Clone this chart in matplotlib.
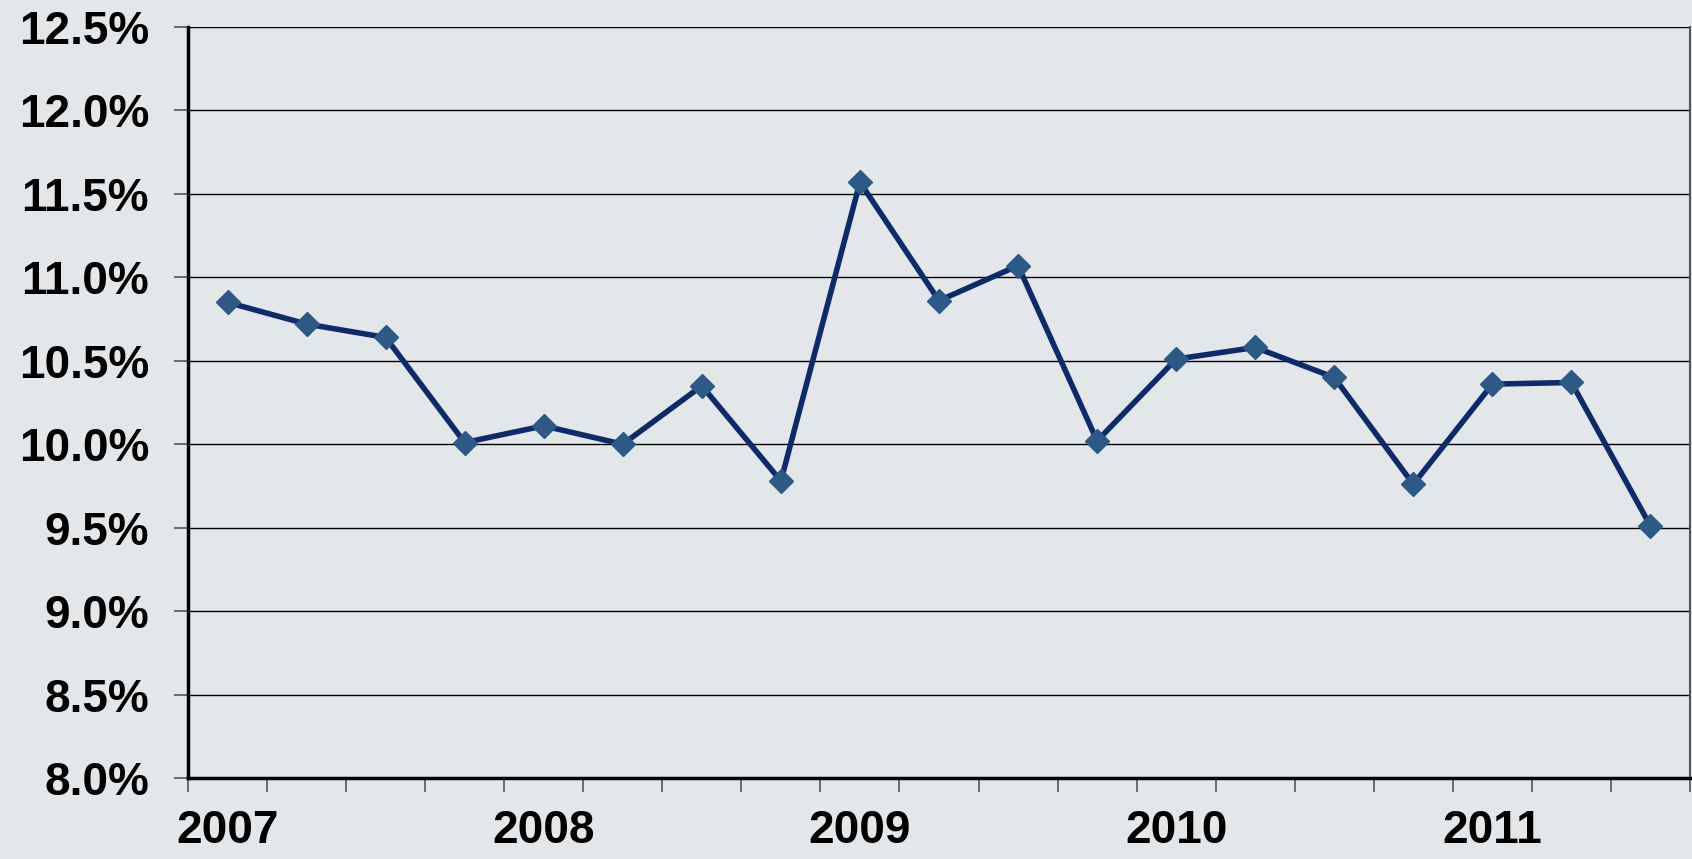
import matplotlib.pyplot as plt
from matplotlib.ticker import FuncFormatter, MultipleLocator

QUARTERS = ["2007 Q1", "2007 Q2", "2007 Q3", "2007 Q4",
            "2008 Q1", "2008 Q2", "2008 Q3", "2008 Q4",
            "2009 Q1", "2009 Q2", "2009 Q3", "2009 Q4",
            "2010 Q1", "2010 Q2", "2010 Q3", "2010 Q4",
            "2011 Q1", "2011 Q2", "2011 Q3"]
RATES = [10.85, 10.72, 10.64, 10.01, 10.11, 10.00, 10.35, 9.78,
         11.57, 10.86, 11.07, 10.02, 10.51, 10.58, 10.40, 9.76,
         10.36, 10.37, 9.51]
YEAR_LABELS = ["2007", "2008", "2009", "2010", "2011"]

BG = "#e4e7ea"

plt.rcParams["font.family"] = ["Liberation Sans", "DejaVu Sans"]
plt.rcParams["font.weight"] = "bold"

fig = plt.figure(figsize=(16.92, 8.59), dpi=100, facecolor=BG)
ax = fig.add_axes([188 / 1692, 1 - 778 / 859, (1690 - 188) / 1692, (778 - 27) / 859])
ax.set_facecolor(BG)

x = list(range(len(QUARTERS)))
ax.plot(x, RATES, color="#0d2a6b", linewidth=4, marker="D", markersize=12,
        markerfacecolor="#2a5a85", markeredgecolor="#2a5a85", zorder=3)

ax.set_xlim(-0.5, len(QUARTERS) - 0.5)
ax.set_ylim(8.0, 12.5)

ax.yaxis.set_major_locator(MultipleLocator(0.5))
ax.yaxis.set_major_formatter(FuncFormatter(lambda v, p: f"{v:.1f}%"))
ax.grid(axis="y", color="black", linewidth=1.0, zorder=1)

# year labels sit on the first quarter of each year
year_pos = [i for i, q in enumerate(QUARTERS) if q.endswith("Q1")]
ax.set_xticks(year_pos)
ax.set_xticklabels(YEAR_LABELS)
ax.set_xticks([i - 0.5 for i in range(len(QUARTERS) + 1)], minor=True)
ax.tick_params(axis="x", which="major", length=0, pad=22, labelsize=33)
ax.tick_params(axis="x", which="minor", length=10, width=1.2, color="#555555")
ax.tick_params(axis="y", length=10, width=1.2, color="#555555", labelsize=33, pad=18)

for side in ["left", "bottom"]:
    ax.spines[side].set_linewidth(2.5)
    ax.spines[side].set_color("black")
ax.spines["right"].set_color("#555555")
ax.spines["right"].set_linewidth(1.5)
ax.spines["top"].set_visible(False)

fig.savefig("out.png", dpi=100, facecolor=BG)
